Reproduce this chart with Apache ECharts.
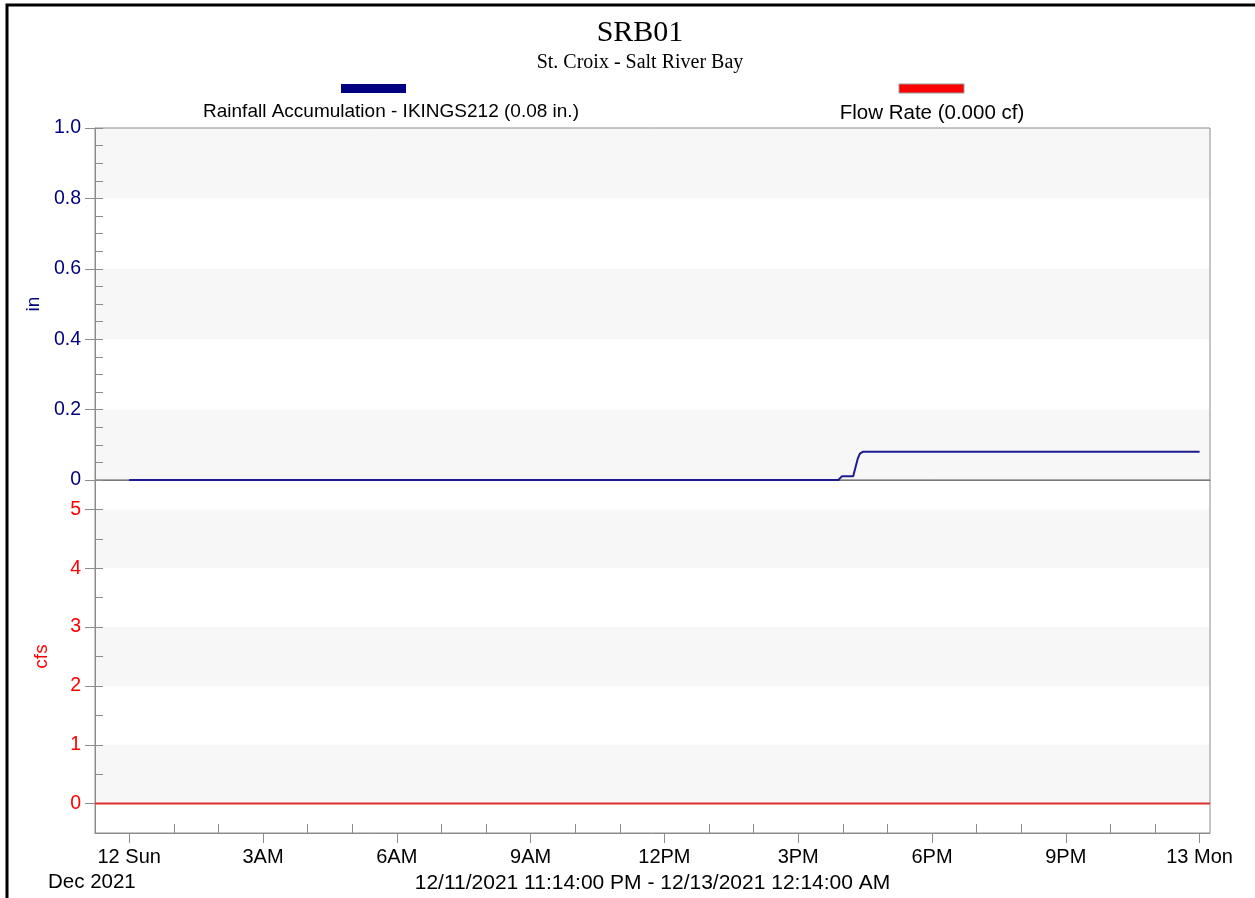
<!DOCTYPE html>
<html><head><meta charset="utf-8">
<script src="https://cdn.jsdelivr.net/npm/echarts@6/dist/echarts.min.js"></script>
<style>html,body{margin:0;padding:0;background:#fff}#c{width:1255px;height:898px}</style>
</head><body><div id="c"></div>
<script>
const titleText = 'SRB01';
const subtitleText = 'St. Croix - Salt River Bay';
const rainLegend = 'Rainfall Accumulation - IKINGS212 (0.08 in.)';
const flowLegend = 'Flow Rate (0.000 cf)';
const rangeText = '12/11/2021 11:14:00 PM - 12/13/2021 12:14:00 AM';
const monthText = 'Dec 2021';
const rangeStartTime = '12/11 23:14';
const rangeEndTime = '12/13 00:14';

const xTickHours = [0, 3, 6, 9, 12, 15, 18, 21, 24];
const xTickLabels = ['12 Sun', '3AM', '6AM', '9AM', '12PM', '3PM', '6PM', '9PM', '13 Mon'];
const xMinorHours = [1, 2, 4, 5, 7, 8, 10, 11, 13, 14, 16, 17, 19, 20, 22, 23];

const rainTimes = ['12/12 00:00', '12/12 15:54', '12/12 15:59', '12/12 16:14', '12/12 16:20', '12/12 16:23', '12/12 16:27', '12/13 00:00'];
const rainValues = [0, 0, 0.011, 0.011, 0.06, 0.075, 0.08, 0.08];
const flowTimes = ['12/11 23:14', '12/13 00:14'];
const flowValues = [0, 0];

const inTicks = [0, 0.2, 0.4, 0.6, 0.8, 1.0];
const cfsTicks = [0, 1, 2, 3, 4, 5];
const cfsMinorTicks = [0.5, 1, 1.5, 2, 2.5, 3, 3.5, 4, 4.5, 5];
const inBands = [[0, 0.2], [0.4, 0.6], [0.8, 1.0]];
const cfsBands = [[0, 1], [2, 3], [4, 5]];

function toHours(s) {
  const parts = s.split(' ');
  const day = +parts[0].split('/')[1];
  const hm = parts[1].split(':');
  return (day - 12) * 24 + (+hm[0]) + (+hm[1]) / 60;
}
const xMin = toHours(rangeStartTime);
const xMax = toHours(rangeEndTime);
const rainData = rainTimes.map((t, i) => [toHours(t), rainValues[i]]);
const flowData = flowTimes.map((t, i) => [toHours(t), flowValues[i]]);

const NAVY = '#000080';
const RED = '#ff0000';
const GRAY = '#8c8c8c';
const BAND = '#f7f7f7';
const SANS = '"Liberation Sans", Arial, sans-serif';
const SERIF = '"Liberation Serif", "Times New Roman", serif';

const chart = echarts.init(document.getElementById('c'), null, {renderer: 'canvas'});
const noSplit = {show: false};
const AZ = 3;
chart.setOption({
  animation: false,
  backgroundColor: '#fff',
  title: {
    text: titleText, subtext: subtitleText,
    left: 635, textAlign: 'center', top: 13, itemGap: 5,
    textStyle: {fontFamily: SERIF, fontSize: 30, fontWeight: 'normal', color: '#000'},
    subtextStyle: {fontFamily: SERIF, fontSize: 20, color: '#000'}
  },
  grid: [
    {left: 95, right: 45, top: 128, height: 352, show: true, z: AZ, borderColor: GRAY, borderWidth: 1, backgroundColor: 'transparent'},
    {left: 95, right: 45, top: 480, height: 353, show: true, z: AZ, borderColor: GRAY, borderWidth: 1, backgroundColor: 'transparent'}
  ],
  xAxis: [
    {gridIndex: 0, type: 'value', min: xMin, max: xMax, position: 'bottom', z: AZ,
      axisLine: {show: true, onZero: false, lineStyle: {color: '#777', width: 1}}, axisTick: {show: false}, axisLabel: {show: false}, splitLine: noSplit},
    {gridIndex: 1, type: 'value', min: xMin, max: xMax, position: 'bottom', z: AZ,
      axisLine: {show: true, onZero: false, lineStyle: {color: GRAY}},
      axisTick: {show: true, customValues: xTickHours, length: 10, lineStyle: {color: GRAY}},
      axisLabel: {show: true, customValues: xTickHours, margin: 14, fontFamily: SANS, fontSize: 20, color: '#000',
        formatter: v => { const i = xTickHours.findIndex(h => Math.abs(h - v) < 1e-6); return i >= 0 ? xTickLabels[i] : ''; }},
      splitLine: noSplit,
      name: rangeText, nameLocation: 'middle', nameGap: 40,
      nameTextStyle: {fontFamily: SANS, fontSize: 21, color: '#000'}},
    {gridIndex: 1, type: 'value', min: xMin, max: xMax, position: 'bottom', z: AZ,
      axisLine: {show: false, onZero: false},
      axisTick: {show: true, inside: true, customValues: xMinorHours, length: 9, lineStyle: {color: GRAY}},
      axisLabel: {show: false}, splitLine: noSplit}
  ],
  yAxis: [
    {gridIndex: 0, type: 'value', min: 0, max: 1, interval: 0.2, position: 'left', z: AZ,
      axisLine: {show: true, onZero: false, lineStyle: {color: GRAY}},
      axisTick: {show: true, length: 10, lineStyle: {color: GRAY}},
      axisLabel: {margin: 14, fontFamily: SANS, fontSize: 19.5, color: NAVY, formatter: v => v === 0 ? '0' : v.toFixed(1)},
      splitLine: noSplit,
      name: 'in', nameLocation: 'middle', nameGap: 42, nameRotate: 90,
      nameTextStyle: {fontFamily: SANS, fontSize: 19, color: NAVY}},
    {gridIndex: 0, type: 'value', min: 0, max: 1, interval: 0.2, position: 'left', z: AZ,
      axisLine: {show: false, onZero: false},
      axisTick: {show: true, inside: true, length: 8, lineStyle: {color: GRAY}},
      minorTick: {show: true, splitNumber: 4, length: 8, lineStyle: {color: GRAY}},
      axisLabel: {show: false}, splitLine: noSplit},
    {gridIndex: 1, type: 'value', min: -0.5, max: 5.5, position: 'left', z: AZ,
      axisLine: {show: true, onZero: false, lineStyle: {color: GRAY}},
      axisTick: {show: true, customValues: cfsTicks, length: 10, lineStyle: {color: GRAY}},
      axisLabel: {customValues: cfsTicks, margin: 14, fontFamily: SANS, fontSize: 19.5, color: RED},
      splitLine: noSplit,
      name: 'cfs', nameLocation: 'middle', nameGap: 44, nameRotate: 90,
      nameTextStyle: {fontFamily: SANS, fontSize: 19, color: RED}},
    {gridIndex: 1, type: 'value', min: -0.5, max: 5.5, position: 'left', z: AZ,
      axisLine: {show: false, onZero: false},
      axisTick: {show: true, inside: true, customValues: cfsMinorTicks, length: 8, lineStyle: {color: GRAY}},
      axisLabel: {show: false}, splitLine: noSplit}
  ],
  series: [
    {name: rainLegend, type: 'line', xAxisIndex: 0, yAxisIndex: 0, data: rainData, showSymbol: false,
      lineStyle: {color: '#1c1c8e', width: 2}, z: 5,
      markArea: {silent: true, z: 1, itemStyle: {color: BAND}, data: inBands.map(b => [{yAxis: b[0]}, {yAxis: b[1]}])}},
    {name: flowLegend, type: 'line', xAxisIndex: 1, yAxisIndex: 2, data: flowData, showSymbol: false,
      lineStyle: {color: '#e0302e', width: 2}, z: 5,
      markArea: {silent: true, z: 1, itemStyle: {color: BAND}, data: cfsBands.map(b => [{yAxis: b[0]}, {yAxis: b[1]}])}}
  ],
  graphic: [
    {type: 'rect', shape: {x: 7, y: 5, width: 1270, height: 920}, style: {fill: 'none', stroke: '#000', lineWidth: 3}, silent: true},
    {type: 'rect', shape: {x: 341, y: 84, width: 65, height: 9}, style: {fill: NAVY}},
    {type: 'text', x: 391, y: 112, style: {text: rainLegend, fontFamily: SANS, fontSize: 19, fill: '#000', align: 'center', verticalAlign: 'middle'}},
    {type: 'rect', shape: {x: 899, y: 84, width: 65, height: 9}, style: {fill: RED, stroke: '#999', lineWidth: 1}},
    {type: 'text', x: 932, y: 113, style: {text: flowLegend, fontFamily: SANS, fontSize: 20.5, fill: '#000', align: 'center', verticalAlign: 'middle'}},
    {type: 'text', x: 48, y: 882, style: {text: monthText, fontFamily: SANS, fontSize: 20.5, fill: '#000', align: 'left', verticalAlign: 'middle'}}
  ]
});
</script></body></html>
